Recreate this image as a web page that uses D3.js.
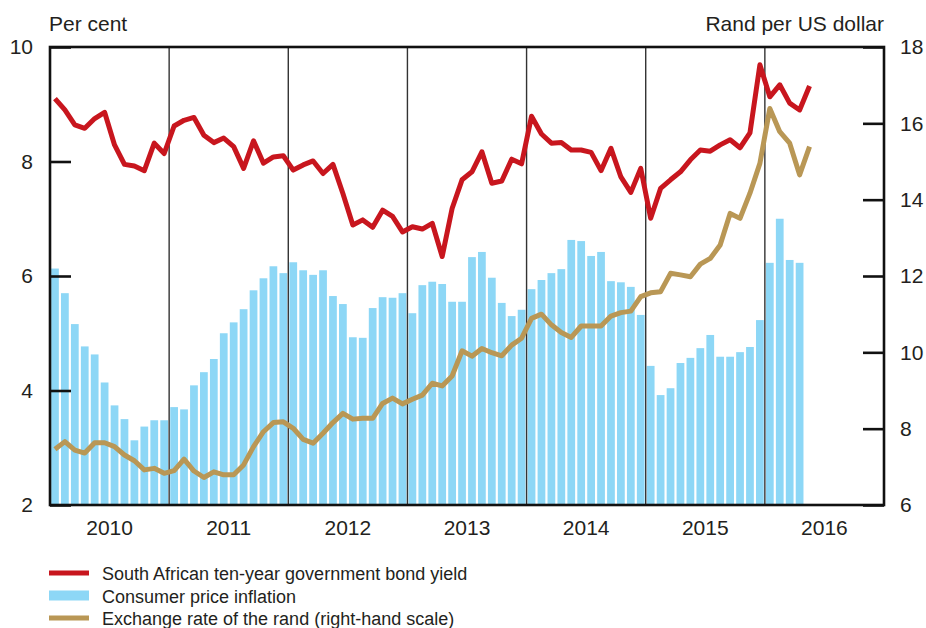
<!DOCTYPE html>
<html><head><meta charset="utf-8">
<script src="https://cdn.jsdelivr.net/npm/d3@7"></script>
<style>
body{margin:0;background:#fff;}
svg text{font-family:"Liberation Sans",Arial,Helvetica,sans-serif;fill:#231f20;}
</style></head>
<body><svg id="chart" width="926" height="628"></svg>
<script>
const years = [2010, 2011, 2012, 2013, 2014, 2015, 2016];
const leftTicks = [2, 4, 6, 8, 10];
const rightTicks = [6, 8, 10, 12, 14, 16, 18];

// Consumer price inflation, Jan 2010 – Apr 2016 (left scale, per cent)
const cpi = [6.13,5.70,5.16,4.77,4.63,4.14,3.74,3.50,3.13,3.37,3.48,3.48,
  3.71,3.67,4.09,4.32,4.55,5.00,5.19,5.42,5.75,5.96,6.17,6.05,
  6.24,6.10,6.02,6.10,5.65,5.51,4.93,4.92,5.44,5.63,5.62,5.70,
  5.35,5.84,5.90,5.86,5.55,5.55,6.33,6.42,5.97,5.53,5.30,5.41,
  5.77,5.93,6.05,6.12,6.63,6.61,6.35,6.42,5.91,5.89,5.81,5.32,
  4.43,3.92,4.04,4.48,4.57,4.74,4.97,4.59,4.59,4.67,4.76,5.23,
  6.23,7.00,6.28,6.23];

// SA ten-year government bond yield, Jan 2010 – May 2016 (left scale, per cent)
const bondYield = [9.10,8.90,8.64,8.58,8.75,8.86,8.29,7.95,7.92,7.84,8.32,8.14,
  8.62,8.72,8.77,8.46,8.33,8.41,8.26,7.88,8.36,7.97,8.08,8.10,
  7.85,7.94,8.01,7.79,7.95,7.44,6.89,6.98,6.85,7.15,7.04,6.77,
  6.86,6.82,6.92,6.34,7.18,7.68,7.82,8.17,7.62,7.66,8.04,7.96,
  8.79,8.48,8.32,8.33,8.20,8.20,8.16,7.84,8.23,7.73,7.46,7.88,
  7.01,7.53,7.68,7.82,8.03,8.20,8.18,8.29,8.38,8.24,8.50,9.69,
  9.13,9.34,9.02,8.90,9.32];

// Exchange rate of the rand, rand per US dollar, Jan 2010 – May 2016 (right scale)
const randUsd = [7.46,7.66,7.44,7.36,7.63,7.63,7.53,7.31,7.16,6.92,6.96,6.83,
  6.90,7.20,6.89,6.72,6.87,6.79,6.79,7.05,7.53,7.92,8.16,8.18,
  8.01,7.72,7.62,7.88,8.16,8.40,8.25,8.27,8.27,8.66,8.80,8.65,
  8.77,8.88,9.19,9.12,9.38,10.04,9.90,10.10,9.99,9.91,10.19,10.37,
  10.89,11.00,10.72,10.52,10.39,10.69,10.69,10.69,10.95,11.04,11.08,11.46,
  11.56,11.59,12.07,12.03,11.98,12.31,12.46,12.81,13.64,13.51,14.17,14.95,
  16.39,15.78,15.48,14.65,15.39];

const legendItems = [
  {label: "South African ten-year government bond yield", type: "line", color: "#c8161e"},
  {label: "Consumer price inflation", type: "rect", color: "#8dd7f6"},
  {label: "Exchange rate of the rand (right-hand scale)", type: "line", color: "#b99755"}
];

const svg = d3.select("#chart");
const L = 50, R = 884, T = 47, B = 505;
const months = [];
years.forEach(y => d3.range(12).forEach(m => months.push(y + "-" + (m + 1))));

const x = d3.scaleBand().domain(months).range([L, R]).paddingInner(0.22).paddingOuter(0.11);
const xYear = d3.scaleBand().domain(years).range([L, R]);
const yL = d3.scaleLinear().domain([2, 10]).range([B, T]);
const yR = d3.scaleLinear().domain([6, 18]).range([B, T]);
const cx = i => x(months[i]) + x.bandwidth() / 2;

// bars
svg.append("g").selectAll("rect").data(cpi).join("rect")
  .attr("x", (d, i) => x(months[i]))
  .attr("width", x.bandwidth())
  .attr("y", d => yL(d))
  .attr("height", d => yL(2) - yL(d))
  .attr("fill", "#8dd7f6");

// year dividers
svg.append("g").selectAll("line").data(years.slice(1)).join("line")
  .attr("x1", d => xYear(d)).attr("x2", d => xYear(d))
  .attr("y1", T).attr("y2", B)
  .attr("stroke", "#333").attr("stroke-width", 1.4);

// lines
const lineR = d3.line().x((d, i) => cx(i)).y(d => yR(d));
const lineL = d3.line().x((d, i) => cx(i)).y(d => yL(d));
svg.append("path").datum(randUsd).attr("d", lineR)
  .attr("fill", "none").attr("stroke", "#b99755").attr("stroke-width", 5).attr("stroke-linejoin", "round");
svg.append("path").datum(bondYield).attr("d", lineL)
  .attr("fill", "none").attr("stroke", "#c8161e").attr("stroke-width", 5).attr("stroke-linejoin", "round");

// frame
svg.append("rect").attr("x", L).attr("y", T).attr("width", R - L).attr("height", B - T)
  .attr("fill", "none").attr("stroke", "#111").attr("stroke-width", 2.6);

// axes
const axL = svg.append("g").attr("transform", `translate(${L},0)`)
  .call(d3.axisLeft(yL).tickValues(leftTicks).tickSize(-21).tickPadding(17).tickFormat(d3.format("d")));
const axR = svg.append("g").attr("transform", `translate(${R},0)`)
  .call(d3.axisRight(yR).tickValues(rightTicks).tickSize(-21).tickPadding(16).tickFormat(d3.format("d")));
[axL, axR].forEach(a => {
  a.select(".domain").remove();
  a.selectAll(".tick line").attr("stroke", "#111").attr("stroke-width", 2.6);
  a.selectAll(".tick text").style("font-size", "21px").attr("fill", "#231f20");
});

// year labels
svg.append("g").selectAll("text").data(years).join("text")
  .attr("x", d => xYear(d) + xYear.bandwidth() / 2).attr("y", 535)
  .attr("text-anchor", "middle").style("font-size", "21px").text(d => d);

// axis titles
svg.append("text").attr("x", 49).attr("y", 31).style("font-size", "21px").text("Per cent");
svg.append("text").attr("x", 884).attr("y", 31).attr("text-anchor", "end").style("font-size", "21px").text("Rand per US dollar");

// legend
const lg = svg.append("g").selectAll("g").data(legendItems).join("g")
  .attr("transform", (d, i) => `translate(49,${573 + i * 22.5})`);
lg.filter(d => d.type === "line").append("line")
  .attr("x1", 0).attr("x2", 40).attr("y1", 0).attr("y2", 0)
  .attr("stroke", d => d.color).attr("stroke-width", 5);
lg.filter(d => d.type === "rect").append("rect")
  .attr("x", 0).attr("y", -5).attr("width", 40).attr("height", 10).attr("fill", d => d.color);
lg.append("text").attr("x", 53).attr("y", 7).style("font-size", "18px").text(d => d.label);
</script></body></html>
